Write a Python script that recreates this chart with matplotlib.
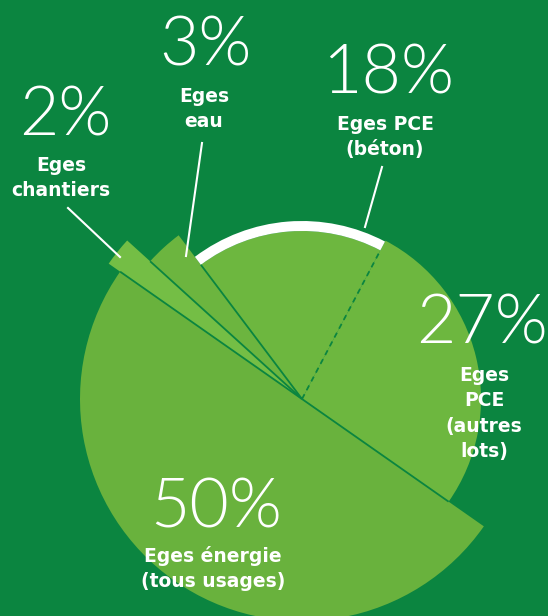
import matplotlib
matplotlib.use("Agg")
import matplotlib.pyplot as plt
from matplotlib.patches import Wedge
import numpy as np

plt.rcParams['font.family'] = ['Lato', 'DejaVu Sans']

# data (share of greenhouse emissions, %)
categories = ["Eges\nchantiers", "Eges\neau", "Eges PCE\n(béton)",
              "Eges\nPCE\n(autres\nlots)", "Eges énergie\n(tous usages)"]
values = [2, 3, 18, 27, 50]

# styling / layout (pixel units, y measured from top)
W, H = 548, 616
bg = "#0b8540"
fill = ["#74be45", "#6cb53f", "#6db73f", "#6db73f", "#69b23d"]
radii = [236, 205, 168, 179, 222]
cx, cy = 302, 399
pct_pos = [(65, 135), (205, 65), (388, 93), (482, 343), (216, 528)]
lab_pos = [(61, 196), (204, 127), (385, 155), (484, 457), (213, 587)]
leaders = [((68, 208), (120, 257)), ((202, 143), (186, 256)), ((382, 167), (365, 227))]


def Y(y):
    return H - y


fig = plt.figure(figsize=(W / 100, H / 100), dpi=100, facecolor=bg)
ax = fig.add_axes([0, 0, 1, 1])
ax.set_facecolor(bg)

wedges, _ = ax.pie(values, startangle=145, counterclock=False, center=(cx, Y(cy)),
                   radius=1, colors=fill, wedgeprops=dict(linewidth=0))
for w, r in zip(wedges, radii):
    w.set_radius(r)

# white rim on the "béton" slice
b = wedges[2]
ax.add_patch(Wedge((cx, Y(cy)), radii[2] + 10, b.theta1, b.theta2, width=10,
                   facecolor="white", edgecolor="none", zorder=3))

# slice boundaries (theta2 is the edge shared with the previous slice)
for i, w in enumerate(wedges):
    ang = np.deg2rad(w.theta2)
    r = min(radii[i], radii[i - 1])
    ls = (0, (3, 2.5)) if i == 3 else "-"
    ax.plot([cx, cx + r * np.cos(ang)], [Y(cy), Y(cy) + r * np.sin(ang)],
            color=bg, lw=1.3, ls=ls, zorder=4, solid_capstyle="butt")

# leader lines
for (x0, y0), (x1, y1) in leaders:
    ax.plot([x0, x1], [Y(y0), Y(y1)], color="white", lw=1.5, zorder=5)

for v, lab, (px, py), (lx, ly) in zip(values, categories, pct_pos, lab_pos):
    ax.text(px, Y(py), f"{v}%", color="white", fontsize=49, fontweight=300,
            ha="center", va="baseline", zorder=6)
    ax.text(lx, Y(ly), lab, color="white", fontsize=13.5, fontweight="bold",
            family="DejaVu Sans", ha="center", va="baseline", linespacing=1.42,
            zorder=6)

ax.set_xlim(0, W)
ax.set_ylim(0, H)
ax.set_aspect("auto")
ax.axis("off")

fig.savefig("out.png", dpi=100, facecolor=bg)
